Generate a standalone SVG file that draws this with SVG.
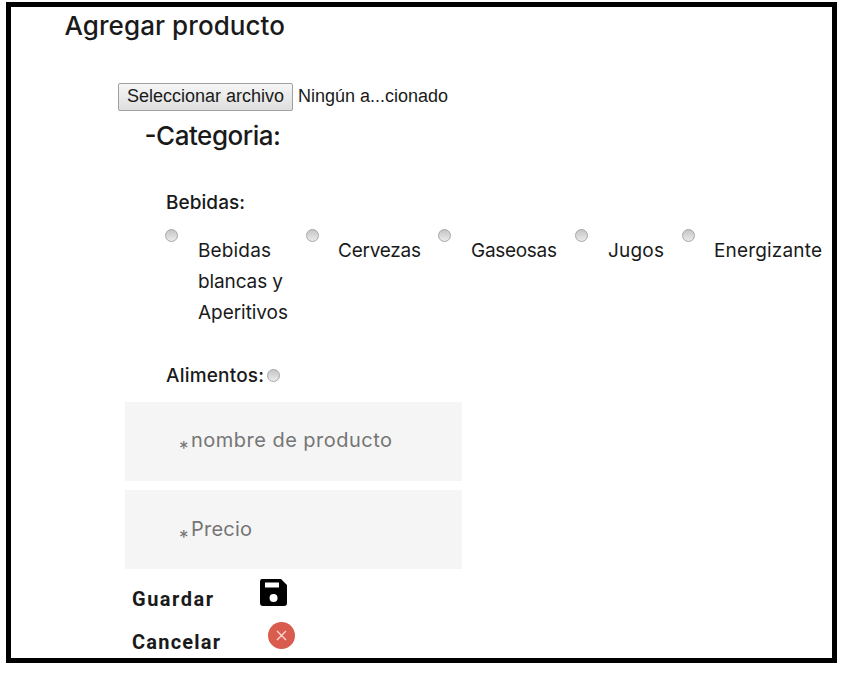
<svg xmlns="http://www.w3.org/2000/svg" width="848" height="676" viewBox="0 0 848 676">
<defs>
<linearGradient id="rg" x1="0" y1="0" x2="0" y2="1"><stop offset="0" stop-color="#c4c4c4"/><stop offset="1" stop-color="#ececec"/></linearGradient>
<linearGradient id="bg" x1="0" y1="0" x2="0" y2="1"><stop offset="0" stop-color="#f6f6f6"/><stop offset="1" stop-color="#dedede"/></linearGradient>
</defs>
<style>
.t{font-family:Inter,"Liberation Sans",sans-serif;fill:#1a1a1a}
.a{font-family:"Liberation Sans",Arial,sans-serif;fill:#1a1a1a;font-size:18px}
.h{font-size:26px;font-weight:500}
.b{font-size:19px;font-weight:500}
.r{font-size:19px}
.p{font-size:20px;fill:#757575}
.s{font-size:19px;fill:#757575}
.k{font-family:Roboto,"Liberation Sans",sans-serif;font-weight:700;font-size:20px;fill:#1a1a1a}
.rd{fill:url(#rg);stroke:#a8a8a8;stroke-width:1}
.f{fill:#f5f5f5}
</style>
<rect width="848" height="676" fill="#fff"/>
<rect id="frame" x="8.500" y="4.500" width="826" height="656" fill="#fff" stroke="#000" stroke-width="5"/>
<g id="title"><text class="t h" x="64.500" y="35" textLength="220.500">Agregar producto</text></g>
<g id="file">
<rect x="118.500" y="83.500" width="174" height="27" rx="1.500" fill="url(#bg)" stroke="#a0a0a0"/>
<text class="a" x="127" y="102">Seleccionar archivo</text>
<text class="a" x="298" y="102">Ningún a...cionado</text>
</g>
<g id="categoria"><text class="t h" x="144.500" y="144.500" textLength="136.500">-Categoria:</text></g>
<g id="bebidas"><text class="t b" x="166" y="208.500" textLength="79">Bebidas:</text></g>
<g id="opt1"><circle class="rd" cx="171.500" cy="235.500" r="6"/><text class="t r" x="198" y="257" textLength="73">Bebidas</text><text class="t r" x="198" y="288" textLength="85">blancas y</text><text class="t r" x="198" y="319" textLength="90">Aperitivos</text></g>
<g id="opt2"><circle class="rd" cx="312.500" cy="235.500" r="6"/><text class="t r" x="338" y="257" textLength="83">Cervezas</text></g>
<g id="opt3"><circle class="rd" cx="444.500" cy="235.500" r="6"/><text class="t r" x="471" y="257" textLength="86">Gaseosas</text></g>
<g id="opt4"><circle class="rd" cx="581.500" cy="235.500" r="6"/><text class="t r" x="608" y="257" textLength="56">Jugos</text></g>
<g id="opt5"><circle class="rd" cx="688.500" cy="235.500" r="6"/><text class="t r" x="714" y="257" textLength="108">Energizante</text></g>
<g id="alimentos"><text class="t b" x="166" y="381.500" textLength="98">Alimentos:</text><circle class="rd" cx="273.500" cy="375.500" r="6"/></g>
<g id="nombre"><rect class="f" x="125" y="402" width="337" height="79"/><text class="t s" x="179" y="455">*</text><text class="t p" x="191" y="447" textLength="201">nombre de producto</text></g>
<g id="precio"><rect class="f" x="125" y="490" width="337" height="79"/><text class="t s" x="179" y="544">*</text><text class="t p" x="191" y="536" textLength="61">Precio</text></g>
<g id="guardar"><text class="k" x="132" y="606" textLength="81">Guardar</text>
<path fill-rule="evenodd" d="M262 579H281L287 585V603Q287 606 284 606H263Q260 606 260 603V582Q260 579 262 579ZM265 582.500V587.500H279V582.500ZM273.500 594A4 4 0 1 0 273.600 602A4 4 0 1 0 273.500 594Z" fill="#000"/></g>
<g id="cancelar"><text class="k" x="132" y="649" textLength="88">Cancelar</text>
<circle cx="281.500" cy="635.500" r="13.500" fill="#d95c4e"/><path d="M277 631L286 640M286 631L277 640" stroke="#f8dcd8" stroke-width="1.300" fill="none"/></g>
</svg>
